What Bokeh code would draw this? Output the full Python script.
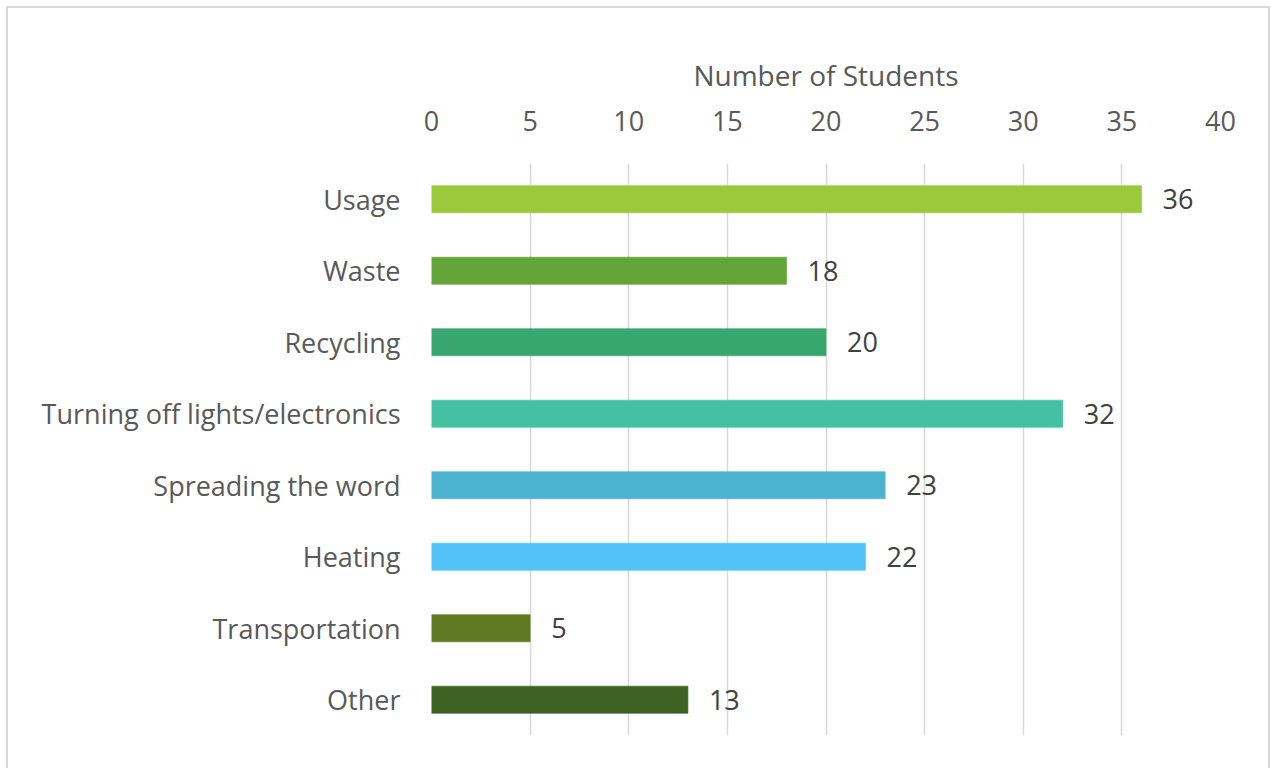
from bokeh.plotting import figure
from bokeh.models import ColumnDataSource, LabelSet, FactorRange, Range1d, FixedTicker
from bokeh.core.properties import value
from bokeh.embed import file_html
from bokeh.resources import INLINE

categories = ["Usage", "Waste", "Recycling", "Turning off lights/electronics",
              "Spreading the word", "Heating", "Transportation", "Other"]
values = [36, 18, 20, 32, 23, 22, 5, 13]
colors = ["#9ACA3C", "#63A537", "#37A76F", "#44C1A3", "#4EB3CF", "#51C3F9", "#5F7A22", "#3D6223"]
x_ticks = [0, 5, 10, 15, 20, 25, 30, 35, 40]
x_title = "Number of Students"

FONT = "Open Sans"
FS = "27px"

src = ColumnDataSource(dict(cat=categories, val=values, col=colors,
                            lab=[str(v) for v in values]))

p = figure(width=1264, height=762, output_backend="svg", toolbar_location=None,
           y_range=FactorRange(factors=list(reversed(categories))),
           x_range=Range1d(0, 40), x_axis_location="above",
           min_border_left=423, min_border_right=52, min_border_top=155, min_border_bottom=35)
p.styles = {"border-left": "2px solid #d9d9d9", "border-top": "2px solid #d9d9d9",
            "border-right": "2px solid #d9d9d9", "margin-left": "6px", "margin-top": "6px"}
p.outline_line_color = None
p.background_fill_color = "white"
p.border_fill_color = "white"

p.hbar(y="cat", right="val", left=0, height=0.38, fill_color="col", line_color="col",
       line_alpha=0.6, source=src)

labels = LabelSet(x="val", y="cat", text="lab", source=src, x_offset=21,
                  text_baseline="middle", text_align="left", text_font=value(FONT),
                  text_font_size=FS, text_color="#404040")
p.add_layout(labels)

xa = p.xaxis[0]
xa.ticker = FixedTicker(ticks=x_ticks)
xa.axis_label = x_title
xa.axis_label_text_font = FONT
xa.axis_label_text_font_size = "28px"
xa.axis_label_text_font_style = "normal"
xa.axis_label_text_color = "#595959"
xa.axis_label_standoff = 14
xa.major_label_text_font = FONT
xa.major_label_text_font_size = FS
xa.major_label_text_color = "#595959"
xa.major_label_standoff = 27
xa.axis_line_color = None
xa.major_tick_line_color = None
xa.minor_tick_line_color = None

ya = p.yaxis[0]
ya.major_label_text_font = FONT
ya.major_label_text_font_size = FS
ya.major_label_text_color = "#595959"
ya.major_label_standoff = 25
ya.axis_line_color = None
ya.major_tick_line_color = None
ya.minor_tick_line_color = None

p.xgrid.grid_line_color = "#d9d9d9"
p.xgrid.grid_line_width = 1.5
p.ygrid.grid_line_color = None

open("out.html", "w").write(file_html(p, INLINE))
